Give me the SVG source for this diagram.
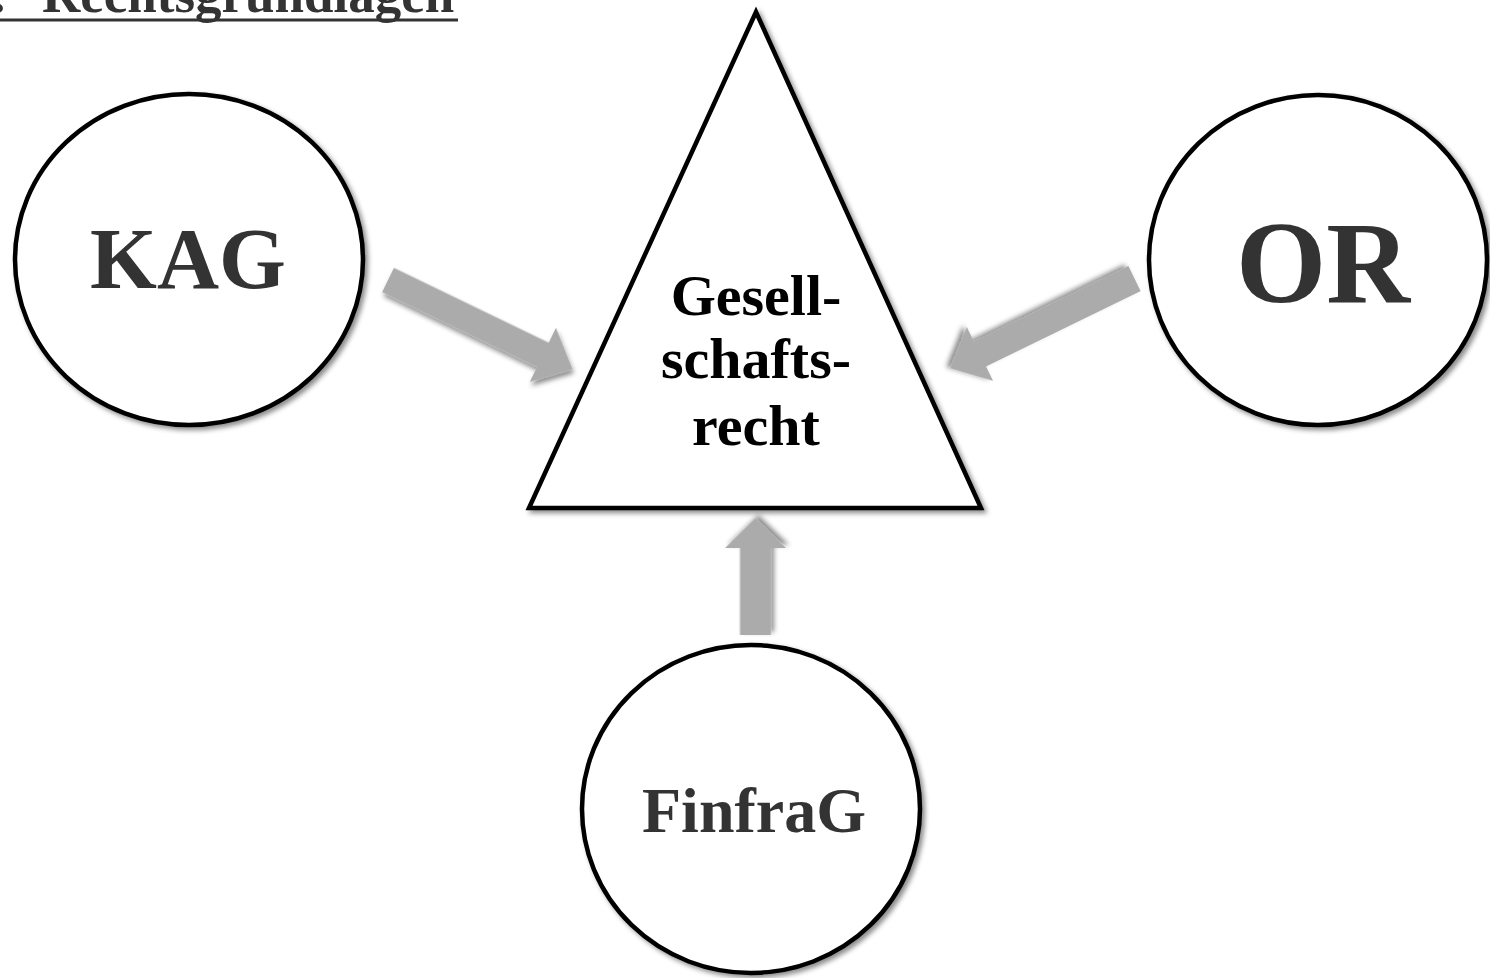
<svg xmlns="http://www.w3.org/2000/svg" width="1490" height="978" viewBox="0 0 1490 978">
<defs>
<filter id="sh" x="-20%" y="-20%" width="140%" height="140%">
<feDropShadow dx="3" dy="3" stdDeviation="2.5" flood-color="#000" flood-opacity="0.45"/>
</filter>
</defs>
<style>
.node{fill:#fff;stroke:#000;stroke-width:4.5;filter:url(#sh)}
.lbl{font-family:"Liberation Serif","Times New Roman",serif;font-weight:bold;fill:#333;text-anchor:middle}
.tri{font-family:"Liberation Serif","Times New Roman",serif;font-weight:bold;fill:#000;text-anchor:middle;font-size:58px}
.arr{fill:#ababab;filter:url(#sh)}
.title{font-family:"Liberation Serif","Times New Roman",serif;font-weight:bold;fill:#333;font-size:53px}
</style>
<rect width="1490" height="978" fill="#fff"/>
<g id="title">
<text class="title" y="12"><tspan x="-8">.</tspan><tspan x="42">Rechtsgrundlagen</tspan></text>
<rect x="0" y="18.5" width="458" height="3" fill="#333"/>
</g>
<g id="connectors">
<path class="arr" transform="translate(388,280) rotate(25.8)" d="M0,-13.5 L172,-13.5 L172,-30 L205,0 L172,30 L172,13.5 L0,13.5 Z"/>
<path class="arr" transform="translate(1134.5,278.5) rotate(154)" d="M0,-14 L172,-14 L172,-30 L205,0 L172,30 L172,14 L0,14 Z"/>
<path class="arr" transform="translate(755.5,635) rotate(-90)" d="M0,-15.5 L87,-15.5 L87,-30.5 L117,0 L87,30.5 L87,15.5 L0,15.5 Z"/>
</g>
<g id="gesellschaftsrecht">
<polygon class="node" points="756,12 529,508 981,508" stroke-width="5"/>
<text class="tri" x="756" y="315">Gesell-</text>
<text class="tri" x="756" y="378">schafts-</text>
<text class="tri" x="756" y="445">recht</text>
</g>
<g id="kag">
<ellipse class="node" cx="189" cy="259.5" rx="174" ry="165.5"/>
<text class="lbl" x="188" y="288" font-size="86">KAG</text>
</g>
<g id="or">
<ellipse class="node" cx="1318" cy="260" rx="169" ry="165"/>
<text class="lbl" x="1323" y="302" font-size="116">OR</text>
</g>
<g id="finfrag">
<ellipse class="node" cx="751" cy="809" rx="169" ry="164"/>
<text class="lbl" x="754" y="832" font-size="64">FinfraG</text>
</g>
</svg>
